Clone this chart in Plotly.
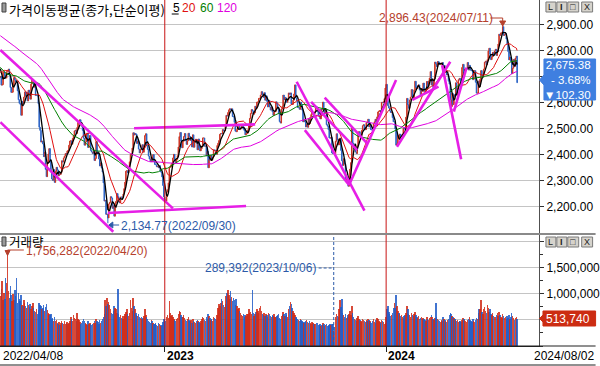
import plotly.graph_objects as go
import pandas as pd

# ---------------- data (KOSPI daily) ----------------
prior_closes = [2988, 3015, 3006, 3013, 3029, 3013, 3007, 3020, 3049, 3025, 3009, 2970,
                2978, 2977, 2975, 2983, 2969, 2960, 2964, 2925, 2924, 2968, 2999, 3000, 2947, 2962, 2971, 3013, 2994, 2936, 2980, 2937, 2909, 2839,
                2899, 2945, 2968, 2973, 2991, 3001, 3002, 3010, 3001, 2987, 2989, 2962, 2991, 3017, 2963, 2975, 3012, 2998, 3020, 3012, 2993, 2977,
                2989, 2991, 2953, 2920, 2954, 2926, 2927, 2972, 2962, 2921, 2890, 2864, 2842, 2834, 2792, 2739, 2720, 2614, 2663,
                2707, 2750, 2745, 2705, 2747, 2768, 2771, 2747, 2704, 2676, 2729, 2718, 2744, 2743, 2706, 2719, 2648, 2676, 2699,
                2703, 2680, 2713, 2651, 2622, 2621, 2680, 2661, 2645, 2621, 2657, 2686, 2694, 2708, 2710, 2729, 2735, 2729, 2741, 2757, 2746, 2757,
                2739, 2757, 2759, 2735, 2695]

closes_2022 = [2700, 2666, 2668, 2716, 2717, 2696, 2693, 2718, 2718, 2728, 2704, 2657, 2638, 2639, 2667, 2695,
               2687, 2680, 2677, 2644, 2610, 2596, 2592, 2550, 2604, 2596, 2620, 2640, 2625, 2639, 2605, 2647, 2638, 2612, 2670, 2685, 2686,
               2658, 2670, 2626, 2626, 2625, 2595, 2504, 2492, 2447, 2451, 2440, 2391, 2408, 2342, 2314, 2366, 2401, 2422, 2377, 2332,
               2305, 2300, 2341, 2292, 2334, 2350, 2340, 2317, 2328, 2322, 2330, 2375, 2370, 2386, 2393, 2403, 2401, 2413, 2415, 2435, 2451,
               2452, 2439, 2461, 2473, 2490, 2493, 2480, 2503, 2523, 2527, 2533, 2516, 2508, 2492, 2462, 2435, 2447, 2477, 2481, 2426, 2450, 2472,
               2415, 2409, 2403, 2410, 2376, 2384, 2449, 2411, 2401, 2382, 2355, 2367, 2347, 2332, 2290, 2220, 2223, 2169, 2170, 2155,
               2209, 2215, 2237, 2232, 2192, 2202, 2162, 2212, 2219, 2249, 2237, 2218, 2213, 2236, 2235, 2235, 2247, 2268, 2293,
               2335, 2337, 2329, 2348, 2371, 2399, 2402, 2424, 2483, 2474, 2480, 2477, 2442, 2451, 2420, 2405, 2419, 2418, 2437, 2408, 2433, 2472,
               2479, 2434, 2419, 2393, 2382, 2371, 2389, 2372, 2399, 2373, 2361, 2360, 2352, 2354, 2348, 2356, 2332, 2332, 2313, 2280, 2236]

closes_2023 = [2225, 2219, 2255, 2264, 2290, 2350, 2351, 2360, 2366, 2386, 2400, 2380, 2368, 2380, 2395, 2428, 2468, 2484, 2450, 2425,
               2449, 2468, 2480, 2454, 2438, 2452, 2481, 2469, 2453, 2465, 2428, 2475, 2427, 2451, 2458, 2455, 2417, 2459, 2423, 2413,
               2421, 2432, 2463, 2463, 2431, 2432, 2394, 2411, 2348, 2379, 2377, 2395, 2379, 2389, 2417, 2416, 2415, 2400, 2434, 2443, 2453, 2477,
               2480, 2479, 2495, 2490, 2491, 2512, 2550, 2547, 2561, 2571, 2575, 2572, 2575, 2545, 2544, 2523, 2489, 2487, 2496, 2501,
               2507, 2495, 2501, 2509, 2510, 2496, 2491, 2475, 2479, 2481, 2494, 2515, 2538, 2557, 2572, 2567, 2554, 2559, 2585, 2577,
               2601, 2601, 2615, 2615, 2628, 2641, 2629, 2619, 2637, 2608, 2625, 2604, 2582, 2608, 2582, 2570, 2581, 2564, 2550, 2564, 2564,
               2602, 2593, 2579, 2556, 2526, 2520, 2574, 2585, 2628, 2609, 2619, 2608, 2600, 2609, 2636, 2631, 2636, 2593, 2592, 2608, 2632,
               2667, 2617, 2605, 2580, 2580, 2573, 2601, 2592, 2570, 2525, 2533, 2525, 2505, 2515, 2504, 2537, 2519, 2543, 2553, 2561, 2561, 2556,
               2563, 2584, 2582, 2563, 2548, 2547, 2536, 2574, 2572, 2601, 2574, 2559, 2574, 2514, 2508, 2495, 2463, 2462, 2465,
               2405, 2403, 2408, 2402, 2450, 2479, 2456, 2436, 2460, 2462, 2415, 2375, 2357, 2383, 2363, 2299, 2302, 2310, 2277,
               2301, 2343, 2368, 2502, 2443, 2421, 2427, 2409, 2403, 2433, 2486, 2487, 2469, 2471, 2492, 2510, 2514, 2495, 2495, 2522, 2521, 2535,
               2505, 2514, 2495, 2494, 2492, 2517, 2525, 2535, 2510, 2544, 2563, 2566, 2568, 2563, 2600, 2599, 2602, 2614, 2655]

closes_2024 = [2669, 2607, 2587, 2578, 2567, 2561, 2562, 2541, 2525, 2525, 2497, 2435, 2440, 2473, 2464, 2478, 2469, 2470, 2478, 2500, 2498, 2497,
               2543, 2615, 2591, 2577, 2609, 2620, 2649, 2620, 2613, 2648, 2681, 2657, 2653, 2664, 2667, 2647, 2625, 2653, 2642,
               2674, 2649, 2641, 2647, 2680, 2660, 2682, 2693, 2718, 2667, 2685, 2657, 2690, 2755, 2748, 2737, 2757, 2755, 2745, 2747,
               2747, 2753, 2706, 2742, 2714, 2717, 2705, 2707, 2681, 2670, 2609, 2584, 2634, 2591, 2629, 2623, 2675, 2628, 2656, 2687, 2692,
               2683, 2676, 2734, 2746, 2712, 2727, 2727, 2730, 2753, 2724, 2742, 2724, 2723, 2721, 2687, 2722, 2722, 2677, 2635, 2636,
               2682, 2662, 2689, 2722, 2701, 2705, 2728, 2754, 2758, 2745, 2764, 2797, 2808, 2784, 2764, 2774, 2792, 2784, 2797,
               2804, 2780, 2794, 2824, 2862, 2857, 2867, 2867, 2891, 2857, 2860, 2864, 2843, 2824, 2795, 2763, 2774, 2758, 2710, 2731, 2765, 2738, 2770,
               2777.68, 2675.38]

# volume, thousand shares
vol_2022 = [950, 1100, 1250, 880, 1020, 900, 1300, 1200, 1756.282, 1050, 920, 1150, 980, 870, 1000, 890,
            1080, 950, 1300, 820, 1010, 900, 860, 980, 790, 760, 880, 830, 770, 720, 850, 790, 740, 810, 700, 760, 820,
            720, 680, 650, 700, 620, 690, 830, 780, 760, 700, 720, 790, 680, 740, 800, 690, 640, 610, 590, 620,
            520, 540, 480, 560, 470, 500, 450, 430, 460, 410, 440, 480, 450, 430, 470, 420, 440, 460, 430, 450, 480,
            560, 520, 480, 600, 540, 510, 470, 640, 520, 490, 460, 430, 450, 470, 510, 480, 440, 420, 400, 470, 430, 450,
            430, 410, 420, 450, 470, 440, 520, 480, 460, 430, 490, 450, 470, 510, 560, 620, 880, 760, 920, 800,
            850, 780, 700, 640, 620, 680, 760, 720, 700, 640, 1100, 620, 560, 600, 540, 570, 520, 580, 610,
            650, 700, 620, 580, 640, 890, 720, 680, 920, 760, 700, 640, 600, 580, 620, 560, 530, 560, 520, 540, 580, 700,
            600, 560, 520, 480, 460, 440, 500, 470, 450, 430, 420, 440, 410, 390, 450, 420, 400, 380, 410, 460, 520]

vol_2023 = [520, 480, 560, 600, 540, 860, 640, 580, 600, 550, 520, 500, 480, 510, 530, 620, 680, 650, 590, 560,
            560, 600, 540, 500, 480, 520, 560, 500, 470, 490, 450, 520, 480, 460, 440, 470, 500, 480, 460, 450,
            480, 520, 560, 540, 500, 480, 560, 520, 620, 580, 540, 500, 520, 480, 560, 540, 520, 500, 600, 720, 800, 760,
            820, 900, 860, 780, 740, 800, 960, 1020, 1080, 980, 900, 1050, 940, 860, 920, 880, 780, 900, 760, 700,
            720, 680, 640, 600, 580, 620, 560, 600, 580, 620, 620, 700, 640, 660, 620, 1080, 640, 580, 620, 660,
            700, 680, 640, 720, 760, 680, 620, 600, 640, 580, 620, 600, 560, 640, 620, 580, 560, 600, 580, 620, 560,
            560, 580, 600, 620, 540, 520, 580, 600, 660, 620, 580, 640, 600, 560, 700, 760, 850, 800, 720, 680, 640,
            600, 560, 540, 520, 500, 480, 520, 500, 480, 460, 440, 460, 480, 500, 460, 440, 470, 450, 430, 460, 440, 420,
            430, 420, 450, 440, 410, 400, 420, 390, 410, 440, 420, 380, 400, 420, 390, 380, 410, 420, 400,
            430, 420, 289.392, 360, 550, 620, 580, 560, 700, 880, 740, 900, 640, 600, 560, 620, 540, 560, 600,
            620, 680, 600, 760, 640, 560, 520, 500, 480, 540, 580, 520, 500, 480, 460, 520, 500, 480, 460, 500, 480, 520,
            500, 480, 460, 440, 480, 520, 460, 440, 500, 540, 520, 480, 460, 440, 500, 480, 460, 420, 440]

vol_2024 = [560, 700, 760, 660, 620, 580, 600, 640, 720, 820, 720, 980, 760, 680, 640, 620, 580, 600, 560, 540, 580, 600,
            640, 760, 700, 620, 600, 560, 640, 600, 580, 620, 660, 600, 560, 540, 580, 520, 540, 560, 520,
            540, 520, 500, 480, 560, 520, 500, 540, 560, 600, 560, 520, 500, 540, 830, 560, 520, 500, 480, 460,
            500, 480, 560, 520, 500, 480, 460, 500, 520, 600, 640, 620, 580, 560, 540, 520, 500, 480, 500, 460, 480,
            480, 460, 500, 540, 520, 500, 480, 460, 500, 520, 560, 500, 480, 460, 520, 480, 460, 500, 540, 520,
            640, 700, 700, 880, 660, 620, 700, 740, 680, 640, 780, 720, 660, 700, 620, 600, 640, 580, 560,
            560, 600, 640, 580, 660, 600, 560, 540, 620, 580, 540, 560, 520, 580, 540, 600, 520, 560, 640, 580, 540, 500, 540,
            560, 513.74]

first_date_label = "2022/04/08"
last_date_label = "2024/08/02"
year_labels = ["2023", "2024"]
peak_high = 2896.43
peak_text = "2,896.43(2024/07/11)"
trough_low = 2134.77
trough_text = "2,134.77(2022/09/30)"
vol_max_text = "1,756,282(2022/04/20)"
vol_min_text = "289,392(2023/10/06)"
last_close_text = "2,675.38"
change_pct_text = "- 3.68%"
change_text = "▼102.30"
last_vol_text = "513,740"
ma_periods = [5, 20, 60, 120]

# user-drawn trendlines (trading-day index, price)
trend_x0 = [0, 0, 148, 119, 328, 337, 359, 344, 386, 439, 456, 489, 502]
trend_y0 = [2801, 2524, 2500, 2174, 2679, 2493, 2618, 2602, 2282, 2429, 2609, 2743, 2564]
trend_x1 = [191, 125, 282, 272, 403, 386, 406, 395, 438, 498, 485, 510, 516]
trend_y1 = [2192, 2102, 2515, 2201, 2183, 2282, 2442, 2416, 2686, 2756, 2660, 2381, 2733]

# ---------------- derived series ----------------
closes = closes_2022 + closes_2023 + closes_2024
volumes = [v * 1000 for v in vol_2022 + vol_2023 + vol_2024]
n = len(closes)
idx = list(range(n))
opens = [prior_closes[-1]] + closes[:-1]
highs = [max(o, c) for o, c in zip(opens, closes)]
lows = [min(o, c) for o, c in zip(opens, closes)]
peak_i = closes.index(max(closes))
trough_i = closes.index(min(closes))
highs[peak_i] = peak_high
lows[trough_i] = trough_low
vmax_i = volumes.index(max(volumes))
vmin_i = volumes.index(min(volumes))
year_starts = [len(closes_2022), len(closes_2022) + len(closes_2023)]
up = [c >= o for o, c in zip(opens, closes)]

full = pd.Series(prior_closes + closes, dtype=float)
mas = {p: full.rolling(p).mean().iloc[len(prior_closes):].tolist() for p in ma_periods}

# ---------------- styling / layout helpers ----------------
W, H = 600, 366
PW, PH = 543, 346          # plot area in pixels
FONT = "Liberation Sans, Noto Sans CJK KR, DejaVu Sans"
KFONT = "Noto Sans CJK KR, Liberation Sans"
RED_C, BLUE_C = "#cc3322", "#2a62c4"
VRED, VBLUE = "rgba(208,42,22,0.85)", "rgba(32,92,200,0.85)"
MA_COLORS = {5: "#000000", 20: "#e01010", 60: "#008000", 120: "#e000e0"}
TREND_C = "#e61ee6"
ANN_RED, ANN_BLUE = "#b5402c", "#2c5aa8"


def pxx(X):
    return X / PW


def pyy(Y):
    return 1 - Y / PH


def ann(text, X, Y, color="#000", size=12, anchor="left", family=FONT, align="left"):
    return dict(text=text, x=pxx(X), y=pyy(Y), xref="paper", yref="paper",
                xanchor=anchor, yanchor="middle", showarrow=False, align=align,
                font=dict(family=family, size=size, color=color))


def pline(X0, Y0, X1, Y1, color, width=1, dash="solid"):
    return dict(type="line", xref="paper", yref="paper", x0=pxx(X0), y0=pyy(Y0),
                x1=pxx(X1), y1=pyy(Y1), line=dict(color=color, width=width, dash=dash))


def ppath(pts, fill, line=None):
    d = "M " + " L ".join(f"{pxx(a):.5f},{pyy(b):.5f}" for a, b in pts) + " Z"
    return dict(type="path", xref="paper", yref="paper", path=d, fillcolor=fill,
                line=dict(color=line or fill, width=1))


fig = go.Figure()
fig.add_trace(go.Candlestick(
    x=idx, open=opens, high=highs, low=lows, close=closes,
    increasing=dict(line=dict(color=RED_C, width=1), fillcolor=RED_C),
    decreasing=dict(line=dict(color=BLUE_C, width=1), fillcolor=BLUE_C),
    whiskerwidth=0, xaxis="x", yaxis="y", hoverinfo="skip", showlegend=False))
for p in ma_periods:
    fig.add_trace(go.Scatter(x=idx, y=mas[p], mode="lines",
                             line=dict(color=MA_COLORS[p], width=1.3 if p == 5 else 1),
                             xaxis="x", yaxis="y", hoverinfo="skip", showlegend=False))
tx, ty = [], []
for a, b, c, d in zip(trend_x0, trend_y0, trend_x1, trend_y1):
    tx += [a, c, None]
    ty += [b, d, None]
fig.add_trace(go.Scatter(x=tx, y=ty, mode="lines", line=dict(color=TREND_C, width=2.6),
                         xaxis="x", yaxis="y", hoverinfo="skip", showlegend=False))
fig.add_trace(go.Bar(x=idx, y=volumes, width=1.6,
                     marker=dict(color=[VRED if u else VBLUE for u in up], line=dict(width=0)),
                     xaxis="x2", yaxis="y2", hoverinfo="skip", showlegend=False))

xr = [-0.37, -0.37 + PW / 0.9102]
yr = [2900 - (233 - 24.3) / 0.26, 2900 + 24.3 / 0.26]
vr = [0, 111 / 52.2 * 1e6]

shapes = []
for ys in year_starts:
    shapes.append(dict(type="line", xref="x", yref="paper", x0=ys, x1=ys, y0=0, y1=1,
                       line=dict(color="#c81414", width=1)))
shapes.append(pline(0, 234, 600, 234, "#8a8a8a", 2))
shapes.append(pline(0, 346, 600, 346, "#202020", 1))
shapes.append(pline(0, 365, 600, 365, "#202020", 1))
shapes.append(dict(type="rect", xref="paper", yref="paper", x0=pxx(2), x1=pxx(6), y0=pyy(12), y1=pyy(3),
                   fillcolor="#9a9a9a", line=dict(color="#404040", width=1)))
shapes.append(dict(type="rect", xref="paper", yref="paper", x0=pxx(2), x1=pxx(6), y0=pyy(246), y1=pyy(237),
                   fillcolor="#9a9a9a", line=dict(color="#404040", width=1)))
shapes.append(pline(173, 14, 180, 14, "#000", 1))
for top in (2, 237):
    for bx0, bx1 in ((550, 560), (561, 571), (572, 583), (586, 597)):
        shapes.append(dict(type="rect", xref="paper", yref="paper", x0=pxx(bx0), x1=pxx(bx1),
                           y0=pyy(top + 10), y1=pyy(top), fillcolor="#d6d3cc",
                           line=dict(color="#7a7a7a", width=1)))
pk = (peak_i + 0.37) * 0.9102
shapes.append(pline(494, 18, pk, 18, ANN_RED, 1))
shapes.append(pline(pk, 18, pk, 22, ANN_RED, 1))
shapes.append(ppath([(pk - 3, 21), (pk + 3, 21), (pk, 26)], ANN_RED))
tr = (trough_i + 0.37) * 0.9102
shapes.append(pline(tr + 4, 225, 120, 225, ANN_BLUE, 1))
shapes.append(ppath([(tr + 1, 225), (tr + 5, 222), (tr + 5, 228)], ANN_BLUE))
vm = (vmax_i + 0.37) * 0.9102
shapes.append(pline(vm, 250, 24, 250, ANN_RED, 1))
shapes.append(ppath([(vm - 2.5, 250.5), (vm + 2.5, 250.5), (vm, 255.5)], ANN_RED))
shapes.append(pline(321, 268, (vmin_i + 0.37) * 0.9102, 268, ANN_BLUE, 1, "3px,2px"))
shapes.append(dict(type="line", xref="x", yref="paper", x0=vmin_i, x1=vmin_i, y0=pyy(345), y1=pyy(236),
                   line=dict(color=ANN_BLUE, width=1, dash="3px,2px")))
shapes.append(ppath([(548, 59), (600, 59), (600, 100), (548, 100), (548, 85), (543.5, 80), (548, 75)], "#3f7fe0"))
shapes.append(ppath([(547, 311), (600, 311), (600, 326), (547, 326), (547, 322), (543.5, 318.5), (547, 315)], "#cc2c12"))

annotations = [
    ann("가격이동평균(종가,단순이평)", 7, 9.5, "#000", 13, family=KFONT),
    ann("5", 172, 8.5, "#000", 12),
    ann("20", 181.5, 8.5, MA_COLORS[20], 12),
    ann("60", 199, 8.5, MA_COLORS[60], 12),
    ann("120", 217, 8.5, MA_COLORS[120], 12),
    ann("거래량", 7, 241.5, "#000", 12.5, family=KFONT),
    ann(peak_text, 380, 18, ANN_RED, 12),
    ann(trough_text, 120, 226, ANN_BLUE, 12),
    ann(vol_max_text, 24, 251, ANN_RED, 12),
    ann(vol_min_text, 320, 268, ANN_BLUE, 12, anchor="right"),
    ann(last_close_text + "<br>" + change_pct_text + "<br>" + change_text,
        597, 79.5, "#ffffff", 11.5, anchor="right", align="right"),
    ann(last_vol_text, 596, 318.5, "#ffffff", 12, anchor="right"),
    ann(first_date_label, 1, 356, "#000", 12),
    ann("<b>" + year_labels[0] + "</b>", (year_starts[0] + 0.37) * 0.9102, 356, "#000", 12),
    ann("<b>" + year_labels[1] + "</b>", (year_starts[1] + 0.37) * 0.9102, 356, "#000", 12),
    ann(last_date_label, 536, 356, "#000", 12),
]
for top in (2, 237):
    for bx, g in ((555, "L"), (566, "<b>I</b>"), (577.5, "□"), (591.5, "X")):
        annotations.append(ann(g, bx, top + 5, "#222", 9, anchor="center"))

price_ticks = list(range(2200, 3000, 100))
price_ticktext = ["" if t == 2700 else f"{t:,.2f}" for t in price_ticks]

fig.update_layout(
    width=W, height=H, margin=dict(l=0, r=W - PW, t=0, b=H - PH),
    paper_bgcolor="#ffffff", plot_bgcolor="#ffffff",
    font=dict(family=FONT, size=12, color="#000"),
    showlegend=False, bargap=0, hovermode=False,
    xaxis=dict(domain=[0, 1], anchor="y", range=xr, showticklabels=False, showgrid=False,
               zeroline=False, showline=False, ticks="", rangeslider=dict(visible=False)),
    yaxis=dict(domain=[1 - 233 / PH, 1], anchor="x", side="right", range=yr,
               tickvals=price_ticks, ticktext=price_ticktext,
               showgrid=True, gridcolor="#c4c4c4", gridwidth=1, zeroline=False,
               showline=True, linecolor="#505050", linewidth=1,
               ticks="outside", ticklen=4, tickcolor="#303030",
               tickfont=dict(family=FONT, size=12, color="#000")),
    xaxis2=dict(domain=[0, 1], anchor="y2", range=xr, showticklabels=False, showgrid=False,
                zeroline=False, showline=True, linecolor="#202020", linewidth=1,
                tickvals=year_starts, ticks="outside", ticklen=5, tickcolor="#202020"),
    yaxis2=dict(domain=[0, 111 / PH], anchor="x2", side="right", range=vr,
                tickvals=[500000, 1000000, 1500000, 2000000],
                ticktext=["", "1,000,000", "1,500,000", ""],
                showgrid=True, gridcolor="#c4c4c4", gridwidth=1, zeroline=False,
                showline=True, linecolor="#505050", linewidth=1,
                ticks="outside", ticklen=4, tickcolor="#303030",
                minor=dict(dtick=250000, ticks="outside", ticklen=3, tickcolor="#303030", showgrid=False),
                tickfont=dict(family=FONT, size=12, color="#000")),
    shapes=shapes, annotations=annotations,
)

fig.write_html("out.html")
